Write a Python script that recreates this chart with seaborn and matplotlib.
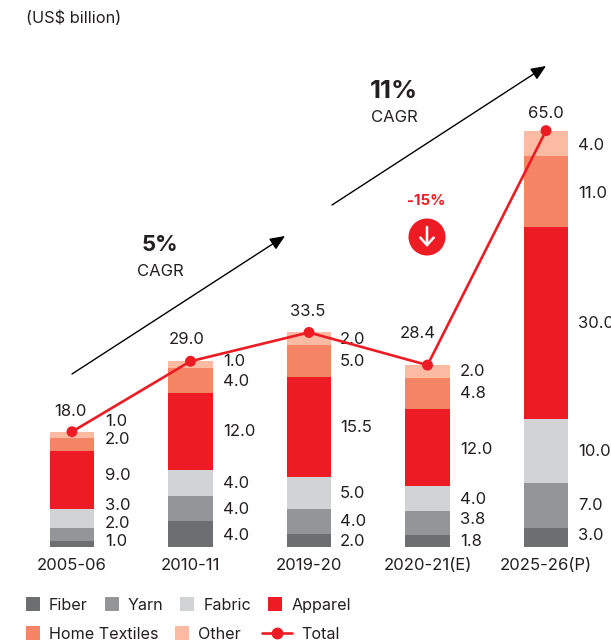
import matplotlib
matplotlib.use("Agg")
import matplotlib.pyplot as plt
import matplotlib.patheffects as pe
from matplotlib.lines import Line2D
from matplotlib.patches import Circle, Patch
from matplotlib.transforms import Affine2D
import numpy as np
import pandas as pd
import seaborn as sns

# values
years = ["2005-06", "2010-11", "2019-20", "2020-21(E)", "2025-26(P)"]
fiber = [1.0, 4.0, 2.0, 1.8, 3.0]
yarn = [2.0, 4.0, 4.0, 3.8, 7.0]
fabric = [3.0, 4.0, 5.0, 4.0, 10.0]
apparel = [9.0, 12.0, 15.5, 12.0, 30.0]
home_textiles = [2.0, 4.0, 5.0, 4.8, 11.0]
other = [1.0, 1.0, 2.0, 2.0, 4.0]
total = [18.0, 29.0, 33.5, 28.4, 65.0]

segment_names = ["Fiber", "Yarn", "Fabric", "Apparel", "Home Textiles", "Other"]
segments = [fiber, yarn, fabric, apparel, home_textiles, other]
colors = ["#6d6e71", "#939598", "#d1d3d4", "#ed1c24", "#f58565", "#fbbba3"]
line_color = "#ed1c24"
text_color = "#231f20"

# hand placed label heights (pixels from top), one row per year, fiber first
label_y = [
    [541, 523, 504, 474, 439, 421],
    [534, 508, 483, 431, 380, 360],
    [540, 521, 492, 427, 361, 339],
    [540, 519, 498, 448, 392, 370],
    [534, 505, 451, 323, 192, 144],
]
label_x = [105, 223, 340, 460, 578]
total_pos = [(70, 411), (187, 339), (308, 310), (418, 332), (546, 113)]

W, H = 611, 641
sns.set_theme(style="white")
plt.rcParams["font.family"] = ["Inter", "DejaVu Sans"]
plt.rcParams["text.color"] = text_color

fig = plt.figure(figsize=(W / 100, H / 100), dpi=100)
ax = fig.add_axes([0, 0, 1, 1])

# stacked bars
bottom = np.zeros(len(years))
for name, vals, color in zip(segment_names, segments, colors):
    df = pd.DataFrame({"year": years, "value": vals})
    sns.barplot(data=df, x="year", y="value", bottom=bottom, color=color,
                saturation=1, width=0.372, linewidth=0, ax=ax)
    bottom = bottom + np.array(vals)

# total line
line_df = pd.DataFrame({"year": years, "total": total})
sns.lineplot(data=line_df, x="year", y="total", sort=False, color=line_color,
             linewidth=1.9, ax=ax, zorder=5)
sns.scatterplot(data=line_df, x="year", y="total", color=line_color, s=62,
                linewidth=0, ax=ax, zorder=6,
                path_effects=[pe.SimpleLineShadow(offset=(1, -1), alpha=0.4), pe.Normal()])

# axes mapped so bar centres land on the reference pixels
px_unit = 118.5
py_unit = 6.405
ax.set_xlim(-72 / px_unit, (W - 72) / px_unit)
ax.set_ylim(-(H - 547) / py_unit, 547 / py_unit)
ax.axis("off")

# pixel coordinates, origin top left
px = Affine2D().scale(1 / W, -1 / H).translate(0, 1) + fig.transFigure


def put(x, y, s, **kw):
    kw.setdefault("fontsize", 12)
    kw.setdefault("ha", "center")
    kw.setdefault("va", "center")
    ax.text(x, y + 1, s, transform=px, **kw)


for i, year in enumerate(years):
    for vals, y in zip(segments, label_y[i]):
        put(label_x[i], y, f"{vals[i]:.1f}", ha="left", clip_on=False)
    put(*total_pos[i], f"{total[i]:.1f}")
    put(72 + px_unit * i, 565, year)

put(26, 17, "(US$ billion)", ha="left", fontsize=11.8)
put(160, 244, "5%", fontsize=16, fontweight="bold")
put(160, 270, "CAGR", fontsize=12)
put(394, 90, "11%", fontsize=18.5, fontweight="bold")
put(394, 117, "CAGR", fontsize=12)
put(426, 200, "-15%", color=line_color, fontsize=10.8, fontweight="bold")

# growth arrows
for start, end in [((72, 374), (285, 236)), ((332, 205), (546, 66))]:
    ax.annotate("", xy=end, xytext=start, xycoords=px, textcoords=px,
                arrowprops=dict(arrowstyle="-|>,head_length=0.75,head_width=0.32",
                                color="black", lw=1.0, shrinkA=0, shrinkB=0))

# red badge with down arrow
ax.add_patch(Circle((427, 237), 18.5, transform=px, color=line_color, lw=0, zorder=7))
ax.annotate("", xy=(427, 247), xytext=(427, 227), xycoords=px, textcoords=px, zorder=8,
            arrowprops=dict(arrowstyle="->,head_length=0.45,head_width=0.4",
                            color="white", lw=1.8, shrinkA=0, shrinkB=0))

# legend, two rows
handles = [Patch(color=c, lw=0) for c in colors]
total_handle = Line2D([], [], color=line_color, lw=1.9, marker="o", markersize=7.5)
common = dict(frameon=False, fontsize=11.6, handlelength=0.87, handleheight=0.87,
              handletextpad=0.56, columnspacing=1.05, borderpad=0, borderaxespad=0,
              loc="center left", bbox_transform=px)
top_row = ax.legend(handles[:4], segment_names[:4], ncol=4, bbox_to_anchor=(26, 605), **common)
ax.add_artist(top_row)
bottom_row = ax.legend(handles[4:], segment_names[4:], ncol=2, bbox_to_anchor=(26, 634), **common)
ax.add_artist(bottom_row)
ax.legend([total_handle], ["Total"], bbox_to_anchor=(262, 634),
          **{**common, "handlelength": 1.85})

fig.savefig("out.png", dpi=100)
